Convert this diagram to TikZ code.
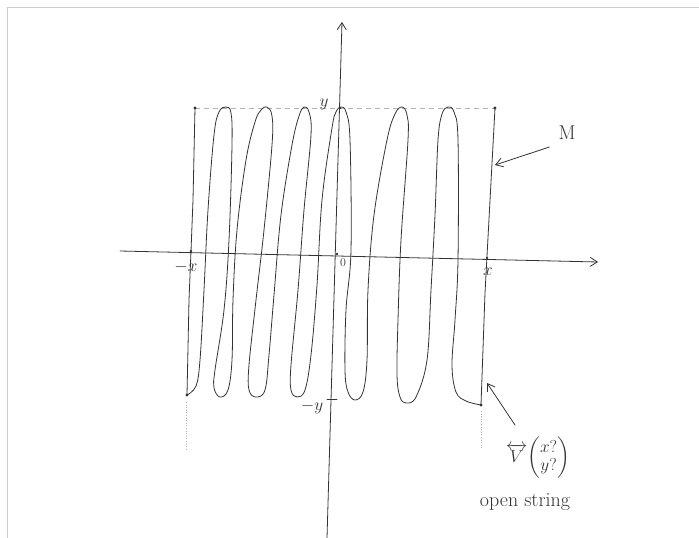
\documentclass[tikz,border=0pt]{standalone}
\usepackage{amsmath}
\usetikzlibrary{arrows.meta}
\begin{document}
\begin{tikzpicture}[x=1pt,y=-1pt,
  ink/.style={draw=black!80,line width=0.8pt,line cap=round,line join=round},
  faint/.style={draw=black!30,line width=0.6pt},
  pt/.style={circle,fill=black!80,inner sep=0pt,minimum size=3.2pt},
  lbl/.style={text=black!80,font=\fontsize{16}{18}\selectfont,inner sep=1pt},
  arr/.style={ink,-{Straight Barb[length=7pt,width=9pt]}}]
\useasboundingbox (0,0) rectangle (699,538);
\fill[white] (0,0) rectangle (699,538);
% frame
\draw[draw=black!20,line width=1pt] (7,538) -- (7,7) -- (699,7);
% axes
\coordinate (xl) at (120,251);
\coordinate (xr) at (598,262);
\coordinate (yb) at (327,538);
\coordinate (yt) at (342,22);
\draw[arr] (xl) -- (xr);
\draw[arr] (yb) -- (yt);
% guide lines
\draw[faint,dashed,dash pattern=on 5pt off 4pt] (195,108) -- (495,108);
\draw[faint,dotted,line width=1pt] (186,402) -- (186,450);
\draw[faint,dotted,line width=1pt] (481,411) -- (481,450);
% the string
\draw[ink] (195,108) -- (193,200) -- (191,251) -- (189,300) -- (187,395);
\draw[ink] plot[smooth,tension=0.6] coordinates {
 (187,395) (196,386) (200,360) (204,290) (208,210) (214,135) (219,112) (226,107) (231,113) (232,145)
 (229,240) (224,310) (215,370) (214,388) (220,397) (228,390) (232,360) (233,300) (237,230) (246,160) (255,122) (261,110) (267,107) (272,116) (272,145)
 (264,230) (256,300) (249,365) (249,390) (256,397) (265,390) (269,355) (274,295) (281,215) (292,145) (299,116) (304,107) (309,112) (311,135)
 (304,210) (298,290) (291,365) (291,390) (297,397) (305,390) (311,355) (317,285) (322,200) (332,128) (336,112) (341,107) (346,112) (350,140)
 (351,250) (346,310) (345,370) (348,392) (355,400) (363,392) (367,360) (368,290) (374,215) (387,140) (395,114) (402,107) (407,115) (408,140)
 (401,240) (398,320) (397,375) (400,397) (406,403) (416,397) (427,360) (431,290) (435,215) (438,140) (442,114) (448,107) (454,112) (458,140)
 (458,260) (455,320) (452,365) (456,392) (466,401) (481,405)};
\draw[ink] (481,405) -- (485,293) -- (487,256) -- (495,108);
% points
\node[pt] (tl) at (195,108) {};
\node[pt] (tr) at (495,108) {};
\node[pt] (bl) at (187,395) {};
\node[pt] (br) at (481,405) {};
\node[pt,minimum size=2.6pt] (mx) at (191,251) {};
\node[pt,minimum size=2.6pt] (o) at (337,254) {};
\node[pt,minimum size=2.6pt] (px) at (487,258) {};
\node[pt,minimum size=2.6pt] (py) at (340,108) {};
\draw[ink] (327,399) -- (337,399);
\coordinate (my) at (332,399);
% labels
\node[lbl] (lmx) at (186,267) {$-x$};
\node[lbl,font=\fontsize{13}{15}\selectfont] (lo) at (343,263) {$0$};
\node[lbl] (lpx) at (488,272) {$x$};
\node[lbl] (lpy) at (324,104) {$y$};
\node[lbl] (lmy) at (312,407) {$-y$};
% M
\node[lbl,font=\fontsize{20}{22}\selectfont] (M) at (567,133) {M};
\coordinate (mtip) at (495,165);
\draw[arr] (M.south west) ++(-8,6) -- (mtip);
% open string label
\node[lbl,anchor=west] (V) at (505,458) {$\overleftrightarrow{V}\!\begin{pmatrix} x?\\ y?\end{pmatrix}$};
\node[lbl,font=\fontsize{20}{22}\selectfont] (os) at (525,502) {open string};
\coordinate (vtip) at (487,383);
\coordinate (vfrom) at (515,425);
\draw[arr] (vfrom) -- (vtip);
\end{tikzpicture}
\end{document}
